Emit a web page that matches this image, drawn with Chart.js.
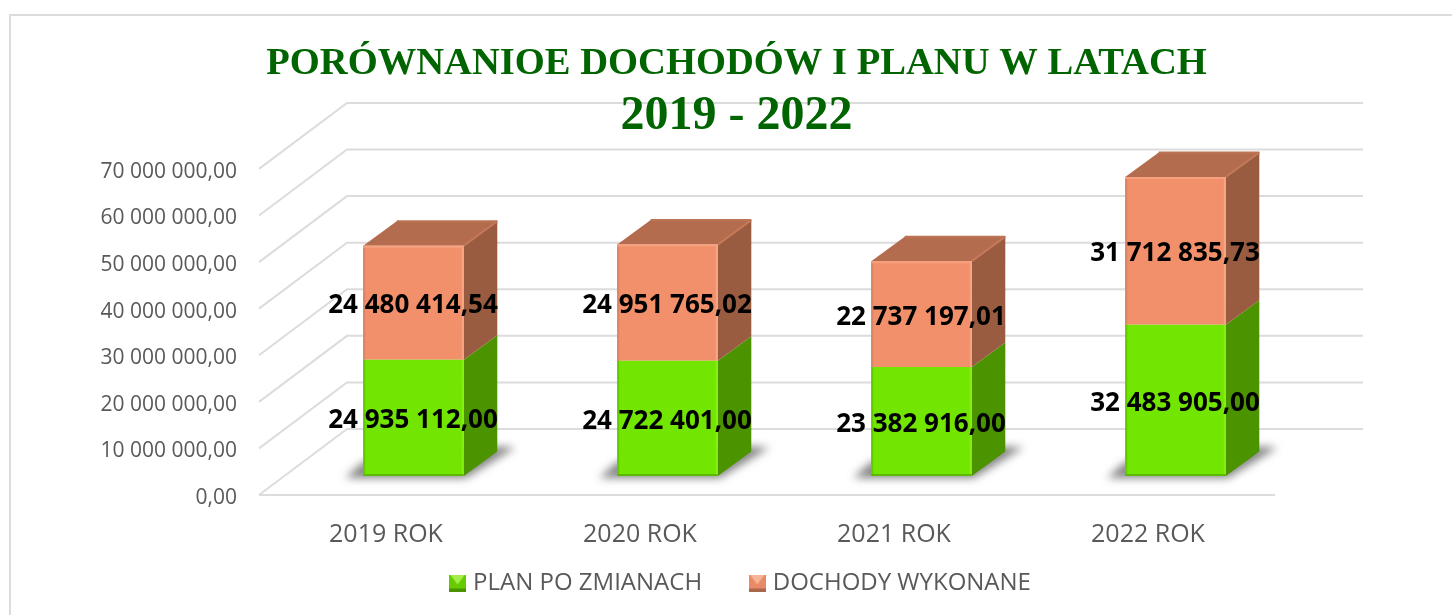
<!DOCTYPE html>
<html>
<head>
<meta charset="utf-8">
<style>
  html, body { margin: 0; padding: 0; background: #fff; overflow: hidden; }
  #frame { position: fixed; left: 9px; top: 14px; width: 1500px; height: 700px; border: 2px solid #dcdcdc; }
  #chart { position: fixed; left: 0; top: 0; }
</style>
<script src="https://cdn.jsdelivr.net/npm/chart.js@4/dist/chart.umd.min.js"></script>
</head>
<body>
<div id="frame"></div>
<canvas id="chart" width="1452" height="615"></canvas>
<script>
const titleLine = 'PORÓWNANIOE DOCHODÓW I PLANU W LATACH';
const subtitleLine = '2019 - 2022';
const categories = ['2019 ROK', '2020 ROK', '2021 ROK', '2022 ROK'];
const planValues = [24935112.00, 24722401.00, 23382916.00, 32483905.00];
const doneValues = [24480414.54, 24951765.02, 22737197.01, 31712835.73];
const planLabels = ['24 935 112,00', '24 722 401,00', '23 382 916,00', '32 483 905,00'];
const doneLabels = ['24 480 414,54', '24 951 765,02', '22 737 197,01', '31 712 835,73'];
const yTickLabels = ['0,00', '10 000 000,00', '20 000 000,00', '30 000 000,00', '40 000 000,00', '50 000 000,00', '60 000 000,00', '70 000 000,00'];

// fake 3d: how far the back wall and the bars sit behind the front plane
const wall = { dx: 88, dy: -66 };
const barShift = { dx: 27.5, dy: -19 };
const depth = { dx: 33.5, dy: -24.5 };
const gridColor = '#dcdcdc';
const legendGap = '\u00a0'.repeat(7);

const ctx = document.getElementById('chart').getContext('2d');

function swatch(base, light, dark) {
  const s = document.createElement('canvas');
  s.width = 17;
  s.height = 17;
  const c = s.getContext('2d');
  c.fillStyle = base;
  c.fillRect(0, 0, 17, 17);
  poly(c, [[1, 0], [16, 0], [8.5, 10]], light);
  c.fillStyle = dark;
  c.fillRect(0, 14, 17, 3);
  return s;
}

function poly(c, pts, fill) {
  c.beginPath();
  pts.forEach((p, i) => i ? c.lineTo(p[0], p[1]) : c.moveTo(p[0], p[1]));
  c.closePath();
  c.fillStyle = fill;
  c.fill();
}

function edge(c, x1, y1, x2, y2, color) {
  c.beginPath();
  c.moveTo(x1, y1);
  c.lineTo(x2, y2);
  c.strokeStyle = color;
  c.stroke();
}

// walls and floor lines, from the y scale
const wallPlugin = {
  id: 'wall',
  afterLayout(chart) {
    // the y labels need the room on the left, but title and legend centre further right
    chart.boxes.forEach((b) => {
      if (b.axis) return;
      const shift = b === chart.legend ? 57.5 : 51.5;
      b.left += shift;
      b.right += shift;
    });
  },
  beforeDraw(chart) {
    const c = chart.ctx, a = chart.chartArea, y = chart.scales.y;
    c.save();
    c.strokeStyle = gridColor;
    c.lineWidth = 2;
    yTickLabels.forEach((_, i) => {
      const py = y.getPixelForValue(i * 10000000);
      c.beginPath();
      c.moveTo(a.left, py);
      c.lineTo(a.left + wall.dx, py + wall.dy);
      c.lineTo(a.right + wall.dx, py + wall.dy);
      c.stroke();
    });
    const base = y.getPixelForValue(0);
    c.beginPath();
    c.moveTo(a.left, base);
    c.lineTo(a.right, base);
    c.stroke();
    c.restore();
  }
};

// shadows and side faces behind the bars, bars themselves moved back off the front plane
const boxPlugin = {
  id: 'box',
  beforeDatasetsDraw(chart) {
    const c = chart.ctx;
    c.save();
    c.translate(barShift.dx, barShift.dy);
    const plan = chart.getDatasetMeta(0).data;
    const done = chart.getDatasetMeta(1).data;
    plan.forEach((b, i) => {
      const l = b.x - b.width / 2, r = b.x + b.width / 2;
      c.save();
      c.filter = 'blur(4px)';
      poly(c, [[l - 18, b.base + 2], [r + 2, b.base + 2], [r + depth.dx + 18, b.base + depth.dy - 4], [r + depth.dx, b.base + depth.dy - 5], [l, b.base - 14]], 'rgba(50,50,50,0.6)');
      c.restore();
      poly(c, [[r, b.base], [r + depth.dx, b.base + depth.dy], [r + depth.dx, b.y + depth.dy], [r, b.y]], '#4b9400');
      const t = done[i];
      poly(c, [[r, t.base], [r + depth.dx, t.base + depth.dy], [r + depth.dx, t.y + depth.dy], [r, t.y]], '#995c41');
      poly(c, [[l, t.y], [l + depth.dx, t.y + depth.dy], [r + depth.dx, t.y + depth.dy], [r, t.y]], '#b46c4e');
      // bevel along the box edges
      c.lineWidth = 2;
      edge(c, r, t.y, r + depth.dx, t.y + depth.dy, '#c47a59');
      edge(c, l + depth.dx, t.y + depth.dy, r + depth.dx, t.y + depth.dy, '#bc7454');
    });
  },
  afterDatasetsDraw(chart) {
    const c = chart.ctx;
    const plan = chart.getDatasetMeta(0).data;
    const done = chart.getDatasetMeta(1).data;
    c.lineWidth = 2;
    plan.forEach((b, i) => {
      const l = b.x - b.width / 2, r = b.x + b.width / 2, t = done[i];
      edge(c, l + 1, b.base, l + 1, b.y, '#62c800');
      edge(c, r - 1, b.base, r - 1, b.y, '#84f012');
      edge(c, l, b.base - 1, r, b.base - 1, '#5cb800');
      edge(c, l + 1, t.base, l + 1, t.y, '#d98563');
      edge(c, r - 1, t.base, r - 1, t.y, '#f8a584');
      edge(c, l, t.y + 1, r, t.y + 1, '#f6a07e');
    });
    c.restore();

    c.save();
    c.font = '700 26px "Open Sans"';
    c.fillStyle = '#000';
    c.textAlign = 'center';
    c.textBaseline = 'middle';
    [planLabels, doneLabels].forEach((texts, d) => {
      chart.getDatasetMeta(d).data.forEach((b, i) => {
        c.fillText(texts[i], b.x + barShift.dx - 0.5, (b.y + b.base) / 2 + barShift.dy + 3);
      });
    });
    c.restore();
  }
};

new Chart(ctx, {
  type: 'bar',
  data: {
    labels: categories,
    datasets: [{
      label: 'PLAN PO ZMIANACH',
      data: planValues,
      backgroundColor: '#72e600',
      barPercentage: 0.396,
      categoryPercentage: 1
    }, {
      label: 'DOCHODY WYKONANE',
      data: doneValues,
      backgroundColor: '#f2906b',
      barPercentage: 0.396,
      categoryPercentage: 1
    }]
  },
  options: {
    responsive: false,
    animation: false,
    layout: { padding: { left: 95, right: 177, top: 41, bottom: 10 } },
    plugins: {
      title: {
        display: true,
        text: titleLine,
        color: '#006400',
        font: { family: '"Liberation Serif"', size: 38.6, weight: 'bold', lineHeight: 1.2 },
        padding: { top: 0, bottom: 0 }
      },
      subtitle: {
        display: true,
        text: subtitleLine,
        color: '#006400',
        font: { family: '"Liberation Serif"', size: 48, weight: 'bold', lineHeight: 1.2 },
        padding: { top: 0, bottom: 24 }
      },
      legend: {
        position: 'bottom',
        labels: {
          color: '#595959',
          font: { family: '"Open Sans"', size: 24 },
          usePointStyle: true,
          pointStyleWidth: 7,
          padding: 8,
          generateLabels() {
            return [
              { text: 'PLAN PO ZMIANACH' + legendGap, pointStyle: swatch('#66cc00', '#a4ee4c', '#4b9400'), fontColor: '#595959', lineWidth: 0 },
              { text: 'DOCHODY WYKONANE', pointStyle: swatch('#e98a66', '#f7b597', '#a9684b'), fontColor: '#595959', lineWidth: 0 }
            ];
          }
        }
      },
      tooltip: { enabled: false }
    },
    scales: {
      x: {
        stacked: true,
        grid: { display: false },
        border: { display: false },
        afterFit(s) { s.height -= 4; },
        ticks: { color: '#595959', padding: 17, font: { family: '"Open Sans"', size: 25 }, maxRotation: 0 }
      },
      y: {
        stacked: true,
        min: 0,
        max: 70000000,
        grid: { display: false },
        border: { display: false },
        afterFit(s) { s.width = 164; },
        ticks: {
          stepSize: 10000000,
          color: '#595959',
          padding: 14,
          labelOffset: 3,
          font: { family: '"Open Sans"', size: 21 },
          callback: (v) => yTickLabels[v / 10000000]
        }
      }
    }
  },
  plugins: [wallPlugin, boxPlugin]
});
</script>
</body>
</html>
